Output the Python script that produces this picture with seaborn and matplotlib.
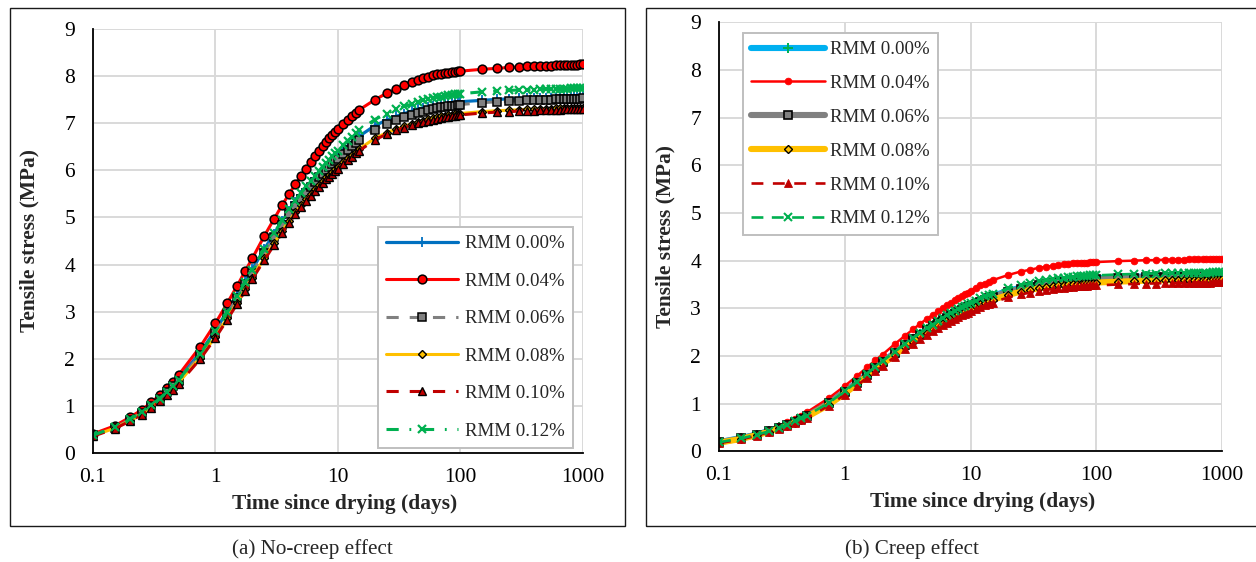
import matplotlib
matplotlib.use("Agg")
import matplotlib.pyplot as plt
from matplotlib.patches import Rectangle
from matplotlib.ticker import FixedLocator, FixedFormatter, NullLocator
import pandas as pd
import seaborn as sns

# ---- data -------------------------------------------------------------
days = [0.1, 0.15, 0.2, 0.25, 0.3, 0.35, 0.4, 0.45, 0.5,
        0.75, 1, 1.25, 1.5, 1.75, 2, 2.5, 3, 3.5, 4, 4.5, 5, 5.5, 6, 6.5, 7, 7.5, 8, 8.5, 9, 9.5, 10,
        11, 12, 13, 14, 15,
        20, 25, 30, 35, 40, 45, 50, 55, 60, 65, 70, 75, 80, 85, 90, 95, 100,
        150, 200, 250, 300, 350, 400, 450, 500, 550, 600, 650, 700, 750, 800, 850, 900, 950, 1000]

dosages = ["RMM 0.00%", "RMM 0.04%", "RMM 0.06%", "RMM 0.08%", "RMM 0.10%", "RMM 0.12%"]

# (a) no creep
nocreep_000 = [0.38, 0.55, 0.72, 0.87, 1.02, 1.17, 1.31, 1.44, 1.57,
               2.13, 2.60, 3.01, 3.35, 3.65, 3.90, 4.32, 4.65, 4.92, 5.14, 5.32, 5.47, 5.60, 5.72, 5.83, 5.92, 6.01, 6.08, 6.15, 6.22, 6.28, 6.33,
               6.43, 6.52, 6.60, 6.67, 6.73,
               6.95, 7.07, 7.15, 7.21, 7.26, 7.30, 7.33, 7.35, 7.37, 7.39, 7.40, 7.42, 7.43, 7.44, 7.44, 7.45, 7.46,
               7.49, 7.51, 7.52, 7.53, 7.53, 7.54, 7.54, 7.54, 7.55, 7.55, 7.55, 7.55, 7.56, 7.56, 7.56, 7.56, 7.56, 7.56]
nocreep_004 = [0.40, 0.57, 0.75, 0.91, 1.07, 1.22, 1.37, 1.51, 1.65,
               2.25, 2.75, 3.18, 3.54, 3.86, 4.13, 4.60, 4.96, 5.26, 5.50, 5.71, 5.88, 6.04, 6.18, 6.30, 6.41, 6.51, 6.60, 6.68, 6.75, 6.82, 6.88,
               6.99, 7.08, 7.16, 7.23, 7.29,
               7.50, 7.64, 7.73, 7.81, 7.87, 7.92, 7.96, 7.99, 8.02, 8.04, 8.06, 8.07, 8.08, 8.09, 8.10, 8.11, 8.11,
               8.15, 8.17, 8.19, 8.20, 8.21, 8.22, 8.22, 8.23, 8.23, 8.24, 8.24, 8.24, 8.25, 8.25, 8.25, 8.25, 8.26, 8.26]
nocreep_006 = [0.37, 0.53, 0.70, 0.85, 1.00, 1.14, 1.28, 1.41, 1.53,
               2.08, 2.55, 2.95, 3.29, 3.58, 3.83, 4.25, 4.58, 4.85, 5.07, 5.25, 5.40, 5.53, 5.65, 5.75, 5.85, 5.93, 6.01, 6.08, 6.14, 6.20, 6.25,
               6.35, 6.44, 6.52, 6.59, 6.65,
               6.87, 6.99, 7.07, 7.13, 7.18, 7.22, 7.25, 7.28, 7.30, 7.32, 7.34, 7.35, 7.36, 7.37, 7.38, 7.39, 7.40,
               7.44, 7.46, 7.47, 7.48, 7.49, 7.49, 7.50, 7.50, 7.50, 7.51, 7.51, 7.51, 7.52, 7.52, 7.52, 7.52, 7.52, 7.53]
nocreep_008 = [0.36, 0.52, 0.68, 0.83, 0.97, 1.11, 1.24, 1.37, 1.49,
               2.02, 2.47, 2.86, 3.19, 3.48, 3.72, 4.13, 4.45, 4.71, 4.93, 5.11, 5.26, 5.39, 5.50, 5.60, 5.69, 5.77, 5.85, 5.91, 5.97, 6.03, 6.08,
               6.17, 6.26, 6.33, 6.40, 6.46,
               6.68, 6.80, 6.88, 6.94, 6.99, 7.03, 7.06, 7.09, 7.11, 7.13, 7.15, 7.16, 7.17, 7.18, 7.19, 7.20, 7.21,
               7.25, 7.27, 7.28, 7.29, 7.30, 7.30, 7.31, 7.31, 7.31, 7.32, 7.32, 7.32, 7.32, 7.33, 7.33, 7.33, 7.33, 7.33]
nocreep_010 = [0.35, 0.51, 0.67, 0.81, 0.95, 1.09, 1.22, 1.34, 1.46,
               1.99, 2.44, 2.83, 3.16, 3.44, 3.69, 4.09, 4.41, 4.67, 4.89, 5.07, 5.22, 5.35, 5.46, 5.56, 5.65, 5.73, 5.81, 5.87, 5.93, 5.99, 6.04,
               6.13, 6.22, 6.29, 6.36, 6.42,
               6.65, 6.77, 6.85, 6.91, 6.96, 7.00, 7.03, 7.06, 7.08, 7.10, 7.12, 7.13, 7.14, 7.15, 7.16, 7.17, 7.18,
               7.22, 7.24, 7.25, 7.26, 7.27, 7.27, 7.28, 7.28, 7.29, 7.29, 7.29, 7.30, 7.30, 7.30, 7.30, 7.31, 7.31, 7.31]
nocreep_012 = [0.37, 0.54, 0.71, 0.86, 1.01, 1.15, 1.29, 1.42, 1.55,
               2.10, 2.58, 2.99, 3.33, 3.63, 3.89, 4.32, 4.66, 4.94, 5.17, 5.36, 5.52, 5.66, 5.78, 5.89, 5.99, 6.08, 6.16, 6.23, 6.30, 6.36, 6.42,
               6.53, 6.63, 6.71, 6.79, 6.85,
               7.08, 7.21, 7.30, 7.36, 7.41, 7.45, 7.49, 7.51, 7.54, 7.56, 7.57, 7.59, 7.60, 7.61, 7.62, 7.62, 7.63,
               7.67, 7.69, 7.70, 7.71, 7.72, 7.72, 7.73, 7.73, 7.73, 7.74, 7.74, 7.74, 7.74, 7.75, 7.75, 7.75, 7.75, 7.75]

# (b) with creep
creep_000 = [0.19, 0.28, 0.35, 0.43, 0.50, 0.56, 0.63, 0.69, 0.75,
             1.02, 1.25, 1.45, 1.62, 1.76, 1.88, 2.07, 2.23, 2.36, 2.47, 2.56, 2.64, 2.71, 2.77, 2.82, 2.87, 2.91, 2.95, 2.98, 3.02, 3.04, 3.07,
             3.12, 3.16, 3.20, 3.23, 3.26,
             3.37, 3.43, 3.47, 3.51, 3.53, 3.55, 3.57, 3.58, 3.59, 3.60, 3.61, 3.61, 3.62, 3.62, 3.63, 3.63, 3.63,
             3.65, 3.66, 3.67, 3.67, 3.68, 3.68, 3.68, 3.68, 3.69, 3.69, 3.69, 3.69, 3.69, 3.69, 3.70, 3.70, 3.70, 3.70]
creep_004 = [0.20, 0.29, 0.37, 0.45, 0.53, 0.61, 0.68, 0.75, 0.82,
             1.12, 1.37, 1.58, 1.76, 1.91, 2.03, 2.25, 2.42, 2.56, 2.68, 2.78, 2.86, 2.94, 3.01, 3.07, 3.12, 3.17, 3.22, 3.26, 3.30, 3.33, 3.37,
             3.43, 3.48, 3.52, 3.56, 3.59,
             3.70, 3.77, 3.81, 3.85, 3.87, 3.89, 3.91, 3.92, 3.93, 3.94, 3.95, 3.95, 3.96, 3.96, 3.97, 3.97, 3.97,
             3.99, 4.00, 4.01, 4.01, 4.02, 4.02, 4.02, 4.02, 4.03, 4.03, 4.03, 4.03, 4.03, 4.03, 4.04, 4.04, 4.04, 4.04]
creep_006 = [0.19, 0.27, 0.35, 0.42, 0.49, 0.55, 0.62, 0.68, 0.74,
             1.01, 1.24, 1.44, 1.61, 1.75, 1.87, 2.06, 2.22, 2.35, 2.45, 2.54, 2.62, 2.69, 2.75, 2.80, 2.85, 2.89, 2.93, 2.96, 3.00, 3.02, 3.05,
             3.10, 3.14, 3.18, 3.21, 3.24,
             3.35, 3.41, 3.45, 3.49, 3.51, 3.53, 3.55, 3.56, 3.57, 3.58, 3.59, 3.59, 3.60, 3.60, 3.61, 3.61, 3.61,
             3.63, 3.64, 3.65, 3.65, 3.66, 3.66, 3.66, 3.66, 3.67, 3.67, 3.67, 3.67, 3.67, 3.67, 3.68, 3.68, 3.68, 3.68]
creep_008 = [0.18, 0.26, 0.34, 0.41, 0.48, 0.54, 0.60, 0.66, 0.72,
             0.98, 1.21, 1.41, 1.57, 1.71, 1.83, 2.02, 2.18, 2.30, 2.41, 2.49, 2.57, 2.64, 2.70, 2.75, 2.79, 2.84, 2.87, 2.91, 2.94, 2.97, 2.99,
             3.04, 3.08, 3.12, 3.15, 3.18,
             3.28, 3.35, 3.39, 3.42, 3.44, 3.46, 3.48, 3.49, 3.50, 3.51, 3.52, 3.52, 3.53, 3.53, 3.54, 3.54, 3.54,
             3.56, 3.57, 3.58, 3.58, 3.59, 3.59, 3.59, 3.59, 3.60, 3.60, 3.60, 3.60, 3.60, 3.60, 3.61, 3.61, 3.61, 3.61]
creep_010 = [0.17, 0.25, 0.33, 0.40, 0.46, 0.53, 0.59, 0.65, 0.70,
             0.96, 1.19, 1.38, 1.54, 1.68, 1.79, 1.98, 2.14, 2.26, 2.36, 2.45, 2.52, 2.59, 2.65, 2.70, 2.74, 2.78, 2.82, 2.85, 2.88, 2.91, 2.94,
             2.98, 3.03, 3.06, 3.10, 3.12,
             3.23, 3.29, 3.33, 3.36, 3.39, 3.40, 3.42, 3.43, 3.44, 3.45, 3.46, 3.46, 3.47, 3.47, 3.48, 3.48, 3.48,
             3.50, 3.51, 3.52, 3.52, 3.53, 3.53, 3.53, 3.53, 3.54, 3.54, 3.54, 3.54, 3.54, 3.54, 3.55, 3.55, 3.55, 3.55]
creep_012 = [0.19, 0.27, 0.35, 0.42, 0.49, 0.56, 0.63, 0.69, 0.75,
             1.02, 1.26, 1.46, 1.63, 1.77, 1.89, 2.09, 2.25, 2.38, 2.49, 2.58, 2.66, 2.73, 2.79, 2.85, 2.90, 2.94, 2.98, 3.02, 3.05, 3.08, 3.11,
             3.16, 3.21, 3.25, 3.28, 3.31,
             3.42, 3.49, 3.53, 3.57, 3.59, 3.61, 3.63, 3.64, 3.65, 3.66, 3.67, 3.67, 3.68, 3.68, 3.69, 3.69, 3.69,
             3.71, 3.72, 3.73, 3.73, 3.74, 3.74, 3.74, 3.74, 3.75, 3.75, 3.75, 3.75, 3.75, 3.75, 3.76, 3.76, 3.76, 3.76]

x_ticks = [0.1, 1, 10, 100, 1000]
x_tick_labels = ["0.1", "1", "10", "100", "1000"]
y_ticks = list(range(0, 10))

nocreep = [nocreep_000, nocreep_004, nocreep_006, nocreep_008, nocreep_010, nocreep_012]
creep = [creep_000, creep_004, creep_006, creep_008, creep_010, creep_012]

# ---- styles -----------------------------------------------------------
BLUE, LBLUE, RED, GRAY, GOLD, DRED, GREEN = ("#0070C0", "#00B0F0", "#FF0000", "#808080",
                                             "#FFC000", "#C00000", "#00B050")

style_a = [
    dict(color=BLUE, lw=2.3, ls="-", marker="+", ms=7, mew=1.3, mec=BLUE),
    dict(color=RED, lw=2.2, ls="-", marker="o", ms=6.3, mew=1.1, mfc=RED, mec="black"),
    dict(color=GRAY, lw=2.2, ls=(0, (4, 3.6)), marker="s", ms=5.8, mew=1.1, mfc=GRAY, mec="black"),
    dict(color=GOLD, lw=2.2, ls="-", marker="D", ms=3.8, mew=1.0, mfc=GOLD, mec="black"),
    dict(color=DRED, lw=2.2, ls=(0, (4, 3.6)), marker="^", ms=6.3, mew=1.0, mfc=DRED, mec="black"),
    dict(color=GREEN, lw=2.2, ls=(0, (4, 3.5, 0.6, 3.5)), marker="x", ms=6.3, mew=1.6, mec=GREEN),
]
style_b = [
    dict(color=LBLUE, lw=4.4, ls="-", marker="+", ms=7, mew=1.4, mec=GREEN),
    dict(color=RED, lw=1.8, ls="-", marker="o", ms=4.8, mew=0.6, mfc=RED, mec=RED),
    dict(color=GRAY, lw=4.4, ls="-", marker="s", ms=5.5, mew=1.2, mfc=GRAY, mec="black"),
    dict(color=GOLD, lw=4.4, ls="-", marker="D", ms=3.8, mew=1.0, mfc=GOLD, mec="black"),
    dict(color=DRED, lw=1.9, ls=(0, (4.5, 3.6)), marker="^", ms=5.2, mew=0.6, mfc=DRED, mec=DRED),
    dict(color=GREEN, lw=1.9, ls=(0, (4.5, 3.2)), marker="x", ms=5.5, mew=1.5, mec=GREEN),
]

# ---- figure -----------------------------------------------------------
sns.set_theme(style="white")
plt.rcParams["font.family"] = ["Liberation Serif", "DejaVu Serif"]
plt.rcParams["lines.solid_capstyle"] = "round"

W, H = 1256, 562
fig = plt.figure(figsize=(W / 100, H / 100), dpi=100)
fig.patch.set_facecolor("white")


def px_axes(left, top, right, bottom):
    return fig.add_axes([left / W, 1 - bottom / H, (right - left) / W, (bottom - top) / H])


# panel frames
for (l, t, r, b) in [(10, 8, 625, 526), (646, 7.5, 1262, 526)]:
    fig.add_artist(Rectangle((l / W, 1 - b / H), (r - l) / W, (b - t) / H,
                             transform=fig.transFigure, fill=False,
                             edgecolor="#1a1a1a", lw=1.0))

ax_a = px_axes(93, 29.3, 582.7, 452.7)
ax_b = px_axes(719, 22.3, 1222, 451.3)

TICK_SIZE = 15.5
LABEL_SIZE = 15.4


def draw_panel(ax, series, styles, ylab_x, xlab_y, xlab_x, tick_len, ypad):
    frame = pd.DataFrame({"days": days})
    for name, vals in zip(dosages, series):
        frame[name] = vals
    long = frame.melt(id_vars="days", var_name="dosage", value_name="stress")
    for name, st in zip(dosages, styles):
        sub = long[long["dosage"] == name]
        st = dict(st)
        ls = st.pop("ls")
        sns.lineplot(data=sub, x="days", y="stress", ax=ax, label=name,
                     linestyle=ls, dash_capstyle="butt", solid_capstyle="round",
                     estimator=None, sort=False, **st)

    ax.set_xscale("log")
    ax.set_xlim(0.1, 1000)
    ax.set_ylim(0, 9)
    ax.xaxis.set_major_locator(FixedLocator(x_ticks))
    ax.xaxis.set_major_formatter(FixedFormatter(x_tick_labels))
    ax.xaxis.set_minor_locator(NullLocator())
    ax.set_yticks(y_ticks)
    ax.grid(True, which="major", color="#D9D9D9", lw=1.4)
    ax.set_axisbelow(True)
    for side in ("top", "right"):
        ax.spines[side].set_visible(False)
    for side in ("left", "bottom"):
        ax.spines[side].set_color("black")
        ax.spines[side].set_linewidth(1.3)
        ax.spines[side].set_zorder(3)
    ax.tick_params(axis="both", which="major", direction="out", colors="black",
                   labelsize=TICK_SIZE, width=1.2)
    ax.tick_params(axis="x", length=4.3, pad=6.5)
    ax.tick_params(axis="y", length=tick_len, pad=ypad)

    ax.set_xlabel("Time since drying (days)", fontsize=LABEL_SIZE, fontweight="bold")
    ax.set_ylabel("Tensile stress (MPa)", fontsize=LABEL_SIZE, fontweight="bold")
    ax.xaxis.label.set_va("center")
    ax.yaxis.label.set_va("center")
    ax.xaxis.set_label_coords(xlab_x, xlab_y)
    ax.yaxis.set_label_coords(ylab_x, 0.5)


draw_panel(ax_a, nocreep, style_a, ylab_x=-0.129, xlab_y=-0.121, xlab_x=0.513,
           tick_len=4.3, ypad=8.5)
draw_panel(ax_b, creep, style_b, ylab_x=-0.107, xlab_y=-0.118, xlab_x=0.525,
           tick_len=3.0, ypad=10)

leg_common = dict(frameon=True, fancybox=False, shadow=False, framealpha=1,
                  edgecolor="#BFBFBF", borderaxespad=0, numpoints=1,
                  prop={"family": ["Liberation Serif"], "size": 13.6})

leg_a = ax_a.legend(loc="lower right", bbox_to_anchor=(0.980, 0.011),
                    handlelength=3.8, handletextpad=0.35, labelspacing=1.07,
                    borderpad=0.45, **leg_common)
leg_a.get_frame().set_linewidth(1.4)

leg_b = ax_b.legend(loc="upper left", bbox_to_anchor=(0.0477, 0.975),
                    handlelength=3.9, handletextpad=0.3, labelspacing=0.88,
                    borderpad=0.42, **leg_common)
leg_b.get_frame().set_linewidth(1.4)

# captions beneath each panel
fig.text(312 / W, 1 - 549 / H, "(a) No-creep effect", ha="center", va="center", fontsize=15.2)
fig.text(912 / W, 1 - 549 / H, "(b) Creep effect", ha="center", va="center", fontsize=15.2)

fig.savefig("out.png", dpi=100, facecolor="white")
